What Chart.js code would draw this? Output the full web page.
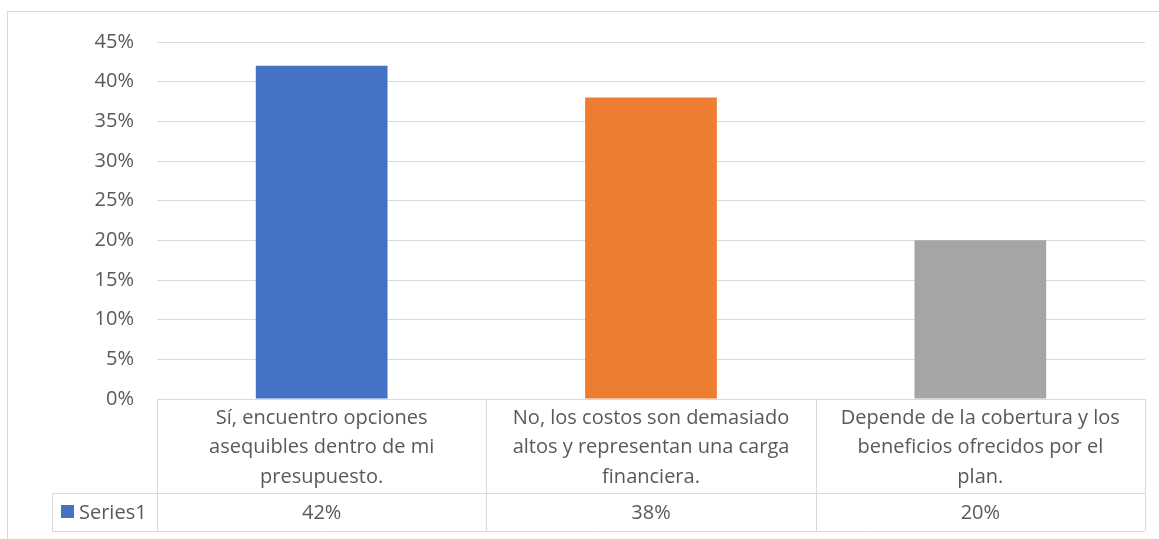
<!DOCTYPE html>
<html>
<head>
<meta charset="utf-8">
<script src="https://cdn.jsdelivr.net/npm/chart.js@4"></script>
<style>
    body { margin: 0; background: #fff; overflow: hidden; }
    #frame { position: absolute; left: 7px; top: 11px; width: 1170px; height: 560px; border: 1px solid #d9d9d9; }
    #wrap { position: absolute; left: 0; top: 0; width: 1159px; height: 539px; }
</style>
</head>
<body>
<div id="frame"></div>
<div id="wrap"><canvas id="chart"></canvas></div>
<script>
// data
const categories = [
    ['Sí, encuentro opciones', 'asequibles dentro de mi', 'presupuesto.'],
    ['No, los costos son demasiado', 'altos y representan una carga', 'financiera.'],
    ['Depende de la cobertura y los', 'beneficios ofrecidos por el', 'plan.'],
]
const seriesName = 'Series1'
const values = [0.42, 0.38, 0.2]
const barColors = ['#4472c4', '#ed7d31', '#a5a5a5']

const FONT = '"Open Sans", sans-serif'
const TEXT = '#595959'
const LINE = '#d9d9d9'
const pct = (v) => Math.round(v * 100) + '%'

// data table under the plot, like Excel
const dataTable = {
    id: 'dataTable',
    afterDraw(chart) {
        const { ctx, chartArea, scales } = chart
        const x = scales.x
        const n = categories.length
        const colW = chartArea.width / n
        const top = chartArea.bottom
        const mid = top + 94
        const bottom = mid + 38
        const legendLeft = 52

        ctx.save()
        ctx.strokeStyle = LINE
        ctx.lineWidth = 1
        ctx.beginPath()
        ctx.moveTo(chartArea.left, top + 0.5)
        ctx.lineTo(chartArea.right, top + 0.5)
        ctx.moveTo(legendLeft, mid + 0.5)
        ctx.lineTo(chartArea.right, mid + 0.5)
        ctx.moveTo(legendLeft, bottom + 0.5)
        ctx.lineTo(chartArea.right, bottom + 0.5)
        ctx.moveTo(legendLeft + 0.5, mid)
        ctx.lineTo(legendLeft + 0.5, bottom)
        for (let i = 0; i <= n; i++) {
            const xx = Math.round(chartArea.left + i * colW) + 0.5
            ctx.moveTo(xx, top)
            ctx.lineTo(xx, bottom)
        }
        ctx.stroke()

        ctx.fillStyle = TEXT
        ctx.font = '20px ' + FONT
        ctx.textAlign = 'center'
        ctx.textBaseline = 'middle'
        categories.forEach((lines, i) => {
            const cx = x.getPixelForValue(i)
            lines.forEach((line, j) => {
                ctx.fillText(line, cx, top + 19 + j * 29.5)
            })
            ctx.fillText(pct(values[i]), cx, mid + 20)
        })

        // legend key
        ctx.fillStyle = barColors[0]
        ctx.fillRect(61, mid + 12, 13, 13)
        ctx.fillStyle = TEXT
        ctx.textAlign = 'left'
        ctx.fillText(seriesName, 79, mid + 20)
        ctx.restore()
    },
}

new Chart(document.getElementById('chart').getContext('2d'), {
    type: 'bar',
    data: {
        labels: categories,
        datasets: [
            {
                label: seriesName,
                data: values,
                backgroundColor: barColors,
                barPercentage: 0.4,
                categoryPercentage: 1,
            },
        ],
    },
    options: {
        responsive: true,
        maintainAspectRatio: false,
        animation: false,
        layout: {
            padding: { top: 42, right: 14, bottom: 140, left: 0 },
        },
        plugins: {
            legend: { display: false },
            tooltip: { enabled: false },
        },
        scales: {
            x: {
                display: false,
            },
            y: {
                min: 0,
                max: 0.45,
                afterFit: (s) => { s.width = 157 },
                border: { display: false },
                grid: { color: LINE, drawTicks: false },
                ticks: {
                    stepSize: 0.05,
                    padding: 23,
                    color: TEXT,
                    font: { family: FONT, size: 20 },
                    callback: (v) => pct(v),
                },
            },
        },
    },
    plugins: [dataTable],
})
</script>
</body>
</html>
